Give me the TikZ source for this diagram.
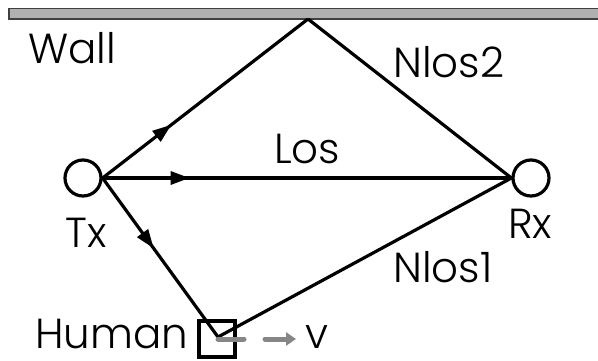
\documentclass[tikz,border=0pt]{standalone}
\usepackage{fontspec}
\setmainfont{Poppins}[UprightFont=* Light]
\usetikzlibrary{arrows.meta,decorations.markings}
\begin{document}
\begin{tikzpicture}[x=1pt,y=-1pt,
  lbl/.style={anchor=base west,inner sep=0pt,text depth=0pt,font=\fontsize{42}{44}\selectfont},
  antenna/.style={draw,circle,line width=3.2pt,minimum size=36pt,inner sep=0pt},
  body/.style={draw,rectangle,line width=3.2pt,minimum size=36pt,inner sep=0pt},
  ray/.style={line width=3.2pt},
  midarrow/.style={postaction={decorate},decoration={markings,
    mark=at position 87pt with {\arrow{Triangle[length=19pt,width=13pt]}}}},
  motion/.style={draw=gray!95,line width=5pt,line cap=round,
    dash pattern=on 26pt off 21pt,-{Triangle[length=10pt,width=13pt]}}
]
\useasboundingbox (0,0) rectangle (598,360);
% wall along the top edge
\draw[fill=black!31,draw=black!75,line width=1.5pt] (9,8.5) rectangle (610,19);
\coordinate (apex) at (308,19);
% transmitter, receiver, human
\node[antenna] (tx) at (83,178) {};
\node[antenna] (rx) at (531,178) {};
\node[body] (human) at (217,339) {};
\coordinate (hc) at (218,337);
\coordinate (vend) at (296,339);
% propagation paths
\draw[ray,midarrow] (tx.east) -- (apex);
\draw[ray] (apex) -- (rx.west);
\draw[ray,midarrow] (tx.east) -- (rx.west);
\draw[ray,midarrow] (tx.east) -- (hc);
\draw[ray] (hc) -- (rx.west);
% motion of the human
\draw[motion] (hc |- vend) -- (vend);
% labels
\node[lbl] (wall) at (28,63) {Wall};
\node[lbl] (los) at (274,163) {Los};
\node[lbl] (nlos2) at (393,77) {Nlos2};
\node[lbl] (nlos1) at (393,282) {Nlos1};
\node[lbl] (txl) at (65,247) {Tx};
\node[lbl] (rxl) at (508,238) {Rx};
\node[lbl] (humanl) at (35,348) {Human};
\node[lbl] (vl) at (305,348) {v};
\end{tikzpicture}
\end{document}
